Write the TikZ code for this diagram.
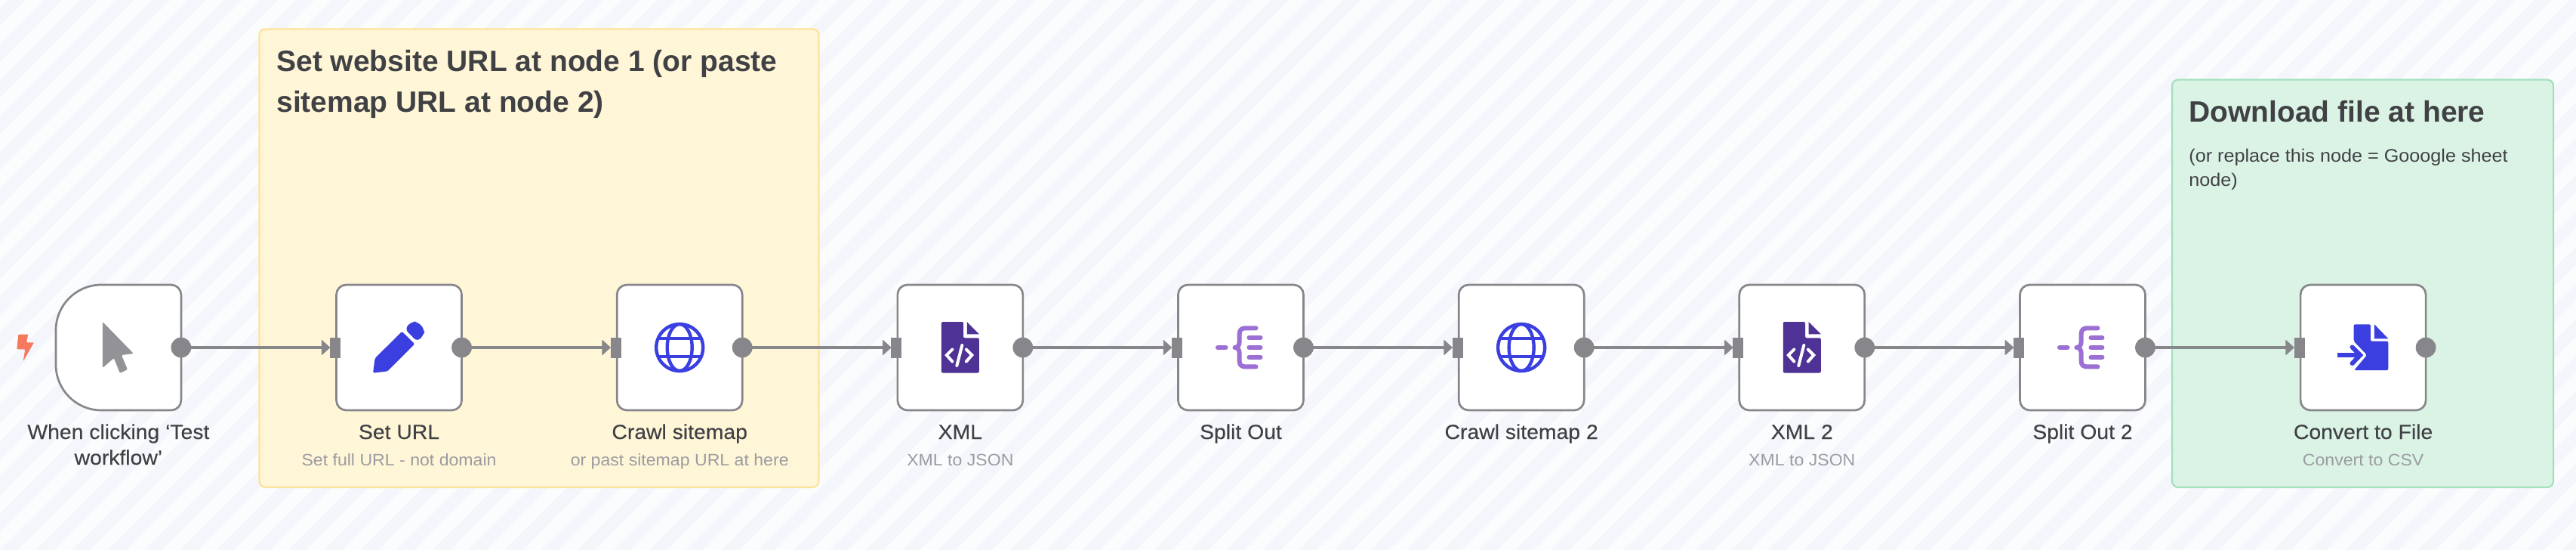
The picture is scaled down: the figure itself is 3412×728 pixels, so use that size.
\documentclass[tikz,border=0pt]{standalone}
\usepackage{fontspec}
\usetikzlibrary{arrows.meta,calc}
\setmainfont{Liberation Sans}[FakeStretch=1.05]
\newfontfamily\headfont{Liberation Sans}
\newfontfamily\titlefont{Liberation Sans}[FakeStretch=1.05,FakeBold=0.25]
\definecolor{stripeA}{HTML}{FBFCFE}
\definecolor{stripeB}{HTML}{F5F6FB}
\definecolor{edgegray}{HTML}{87878B}
\definecolor{titlecol}{HTML}{404145}
\definecolor{subcol}{HTML}{9B9CA1}
\definecolor{iconblue}{HTML}{3B3FE0}
\definecolor{iconxml}{HTML}{4F3295}
\definecolor{iconsplit}{HTML}{9B6FD4}
\definecolor{curs}{HTML}{939397}
\definecolor{bolt}{HTML}{F4795F}
\definecolor{yelfill}{HTML}{FFF5D7}
\definecolor{yeledge}{HTML}{FBE49A}
\definecolor{grnfill}{HTML}{DBF3E5}
\definecolor{grnedge}{HTML}{A3E0BC}
\tikzset{
  x=0.5pt,y=-0.5pt,
  wfbox/.style={draw=edgegray,fill=white,line width=1.35pt,rounded corners=6.5pt,
    minimum width=83pt,minimum height=83pt,inner sep=0pt,outer sep=0pt},
  wfghost/.style={minimum width=83pt,minimum height=83pt,inner sep=0pt,outer sep=0pt},
  wflink/.style={draw=edgegray,line width=1.7pt,shorten >=4.2pt,
    -{Triangle[length=5.8pt,width=10.4pt,round,line width=0.5pt]}},
  inport/.style={fill=edgegray},
  outport/.style={fill=edgegray},
  wftitle/.style={font=\titlefont\fontsize{13.5pt}{17pt}\selectfont,text=titlecol,anchor=base,inner sep=0pt,align=center},
  wfsub/.style={font=\fontsize{11pt}{14pt}\selectfont,text=subcol,anchor=base,inner sep=0pt},
  sticky/.style={rounded corners=4pt,line width=1.1pt},
  stickyhead/.style={font=\headfont\bfseries\fontsize{19.5pt}{27pt}\selectfont,text=titlecol,anchor=north west,inner sep=0pt,align=left},
  stickynote/.style={font=\fontsize{12pt}{15.8pt}\selectfont,text=titlecol,anchor=north west,inner sep=0pt,align=left},
  glyph/.style={line cap=round,line join=round},
}
\newcommand{\iconcursor}[1]{\begin{scope}[shift={(#1.center)}]
  \fill[curs,rounded corners=0.7pt] (-20.9,-34) -- (20,8) -- (4,10) -- (12,29) -- (2,34) -- (-6,14) -- (-21,27) -- cycle;
\end{scope}}
\newcommand{\iconpencil}[1]{\begin{scope}[shift={(#1.center)}]
  \fill[iconblue,rounded corners=0.8pt] (-31.9,14.3) -- (-34.5,33.7) -- (-15.2,31.3) -- (20.8,-4.7) -- (3.8,-21.3) -- cycle;
  \fill[iconblue,rounded corners=3pt] (7.5,-24.7) -- (17,-34.6) -- (25,-34) -- (33.8,-24) -- (33.1,-17) -- (24.1,-7.7) -- cycle;
\end{scope}}
\newcommand{\iconglobe}[1]{\begin{scope}[shift={(#1.center)},glyph,draw=iconblue,line width=2.2pt]
  \draw[iconblue] (0,0) circle[radius=31];
  \draw[iconblue] (0,0) ellipse[x radius=16.5,y radius=31];
  \draw[iconblue,line cap=butt] (-29,-12) -- (29,-12) (-29,12) -- (29,12);
\end{scope}}
\newcommand{\iconxml}[1]{\begin{scope}[shift={(#1.center)}]
  \fill[iconxml,rounded corners=1pt] (-25,-34) -- (4.2,-34) -- (4.2,-12.7) -- (25,-12.7) -- (25,33.5) -- (-25,33.5) -- cycle;
  \fill[iconxml] (8.9,-34) -- (25,-17.7) -- (8.9,-17.7) -- cycle;
  \draw[white,line width=2pt,line cap=round,line join=miter] (-10.5,2.5) -- (-18,10) -- (-10.5,18.5);
  \draw[white,line width=2pt,line cap=round,line join=miter] (8,2.5) -- (15.5,10) -- (8,18.5);
  \draw[white,line width=2pt,line cap=round] (2.5,-3) -- (-4.5,24);
\end{scope}}
\newcommand{\iconsplit}[1]{\begin{scope}[shift={(#1.center)},glyph]
  \draw[iconsplit,line width=3pt,line cap=round] (-30.5,0) -- (-20,0);
  \draw[iconsplit,line width=3pt] (20,-25.7) -- (6,-25.7) .. controls (1,-25.7) and (-1.8,-23) .. (-1.8,-18.3) -- (-1.8,-8) .. controls (-1.8,-3) and (-4,0) .. (-8,0) .. controls (-4,0) and (-1.8,3) .. (-1.8,8) -- (-1.8,18.3) .. controls (-1.8,23) and (1,25.4) .. (6,25.4) -- (20,25.4);
  \draw[iconsplit,line width=3pt] (11,-13) -- (26,-13) (11,0) -- (26,0) (11,12.7) -- (26,12.7);
\end{scope}}
\newcommand{\iconconvert}[1]{\begin{scope}[shift={(#1.center)}]
  \fill[iconblue,rounded corners=1pt] (-12.5,-30.7) -- (9.8,-30.7) -- (9.8,-8.3) -- (33.2,-8.3) -- (33.2,30) -- (-12,30) -- (5,10) -- (-12.5,-8.3) -- cycle;
  \fill[iconblue] (14.8,-30.7) -- (33.2,-11.7) -- (14.8,-11.7) -- cycle;
  \draw[iconblue,line width=3pt,line cap=butt] (-34,10) -- (-7,10);
  \draw[iconblue,line width=3pt,line cap=round,line join=miter] (-14.5,-0.5) -- (-4,10) -- (-14.5,21);
\end{scope}}
\newcommand{\outdot}[1]{\fill[outport] (#1.east) circle[radius=13.4];}
\newcommand{\indot}[1]{\fill[inport] ($(#1.west)+(-8.6,-13.5)$) rectangle ($(#1.west)+(5.4,13.5)$);}
\begin{document}
\begin{tikzpicture}
\path[use as bounding box] (0,0) rectangle (3412,728);
\begin{scope}
  \clip (0,0) rectangle (3412,728);
  \fill[stripeA] (0,0) rectangle (3412,728);
  \foreach \k in {-1,...,85}{
    \pgfmathsetmacro{\c}{58.3+47.8*\k}
    \pgfmathsetmacro{\d}{\c+23.5}
    \fill[stripeB] (\c,0) -- (\d,0) -- (\d-728,728) -- (\c-728,728) -- cycle;
  }
\end{scope}
% sticky notes
\filldraw[sticky,fill=yelfill,draw=yeledge] (343.5,38.5) rectangle (1084.5,645);
\filldraw[sticky,fill=grnfill,draw=grnedge] (2877,105.5) rectangle (3382,645);
\node[stickyhead] (yhead) at (366,66) {Set website URL at node 1 (or paste\\sitemap URL at node 2)};
\node[stickyhead] (ghead) at (2899,133) {Download file at here};
\node[stickynote] (gnote) at (2899,197) {(or replace this node = Gooogle sheet\\node)};
% nodes
\node[wfghost] (n1) at (156.9,460) {};
\node[wfbox] (n2) at (528.55,460) {};
\node[wfbox] (n3) at (900.2,460) {};
\node[wfbox] (n4) at (1271.85,460) {};
\node[wfbox] (n5) at (1643.5,460) {};
\node[wfbox] (n6) at (2015.15,460) {};
\node[wfbox] (n7) at (2386.8,460) {};
\node[wfbox] (n8) at (2758.45,460) {};
\node[wfbox] (n9) at (3130.1,460) {};
\draw[edgegray,fill=white,line width=1.35pt] (n1.north east) ++(-13,0) -- (134,377) .. controls (101,377) and (74,404) .. (74,437) -- (74,483) .. controls (74,516) and (101,543) .. (134,543) -- ($(n1.south east)+(-13,0)$) .. controls ($(n1.south east)+(-6,0)$) and ($(n1.south east)+(0,-6)$) .. ($(n1.south east)+(0,-13)$) -- ($(n1.north east)+(0,13)$) .. controls ($(n1.north east)+(0,6)$) and ($(n1.north east)+(-6,0)$) .. ($(n1.north east)+(-13,0)$) -- cycle;
% connectors
\draw[wflink] (n1.east) -- (n2.west);
\draw[wflink] (n2.east) -- (n3.west);
\draw[wflink] (n3.east) -- (n4.west);
\draw[wflink] (n4.east) -- (n5.west);
\draw[wflink] (n5.east) -- (n6.west);
\draw[wflink] (n6.east) -- (n7.west);
\draw[wflink] (n7.east) -- (n8.west);
\draw[wflink] (n8.east) -- (n9.west);
\foreach \n in {n1,n2,n3,n4,n5,n6,n7,n8,n9}{\outdot{\n}}
\foreach \n in {n2,n3,n4,n5,n6,n7,n8,n9}{\indot{\n}}
% trigger bolt
\fill[bolt,rounded corners=0.5pt] (24.3,442.7) -- (37.3,442.7) -- (35,453.3) -- (45,453.3) -- (30.7,478.3) -- (33.3,462.3) -- (22.3,462.3) -- cycle;
% icons
\iconcursor{n1}
\iconpencil{n2}
\iconglobe{n3}
\iconxml{n4}
\iconsplit{n5}
\iconglobe{n6}
\iconxml{n7}
\iconsplit{n8}
\iconconvert{n9}
% labels
\node[wftitle] (t1) at (156.9,615) {When clicking ‘Test\\workflow’};
\node[wftitle] (t2) at (528.55,581) {Set URL};
\node[wftitle] (t3) at (900.2,581) {Crawl sitemap};
\node[wftitle] (t4) at (1271.85,581) {XML};
\node[wftitle] (t5) at (1643.5,581) {Split Out};
\node[wftitle] (t6) at (2015.15,581) {Crawl sitemap 2};
\node[wftitle] (t7) at (2386.8,581) {XML 2};
\node[wftitle] (t8) at (2758.45,581) {Split Out 2};
\node[wftitle] (t9) at (3130.1,581) {Convert to File};
\node[wfsub] (s2) at (528.55,616) {Set full URL - not domain};
\node[wfsub] (s3) at (900.2,616) {or past sitemap URL at here};
\node[wfsub] (s4) at (1271.85,616) {XML to JSON};
\node[wfsub] (s7) at (2386.8,616) {XML to JSON};
\node[wfsub] (s9) at (3130.1,616) {Convert to CSV};
\end{tikzpicture}
\end{document}
